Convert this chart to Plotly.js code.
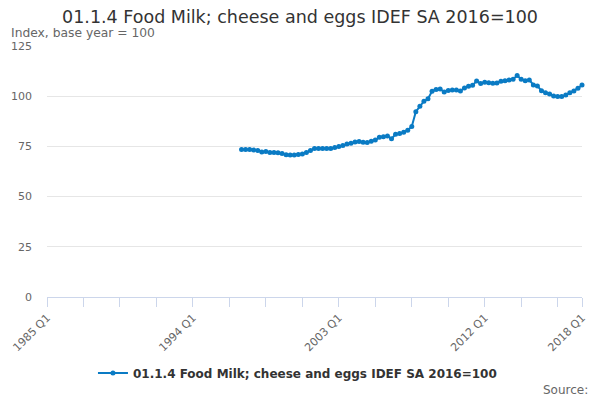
<!DOCTYPE html>
<html>
<head>
<meta charset="utf-8">
<script src="https://cdn.plot.ly/plotly-3.0.1.min.js"></script>
<style>
  html, body { margin: 0; padding: 0; background: #fff; }
  #chart { width: 600px; height: 400px; }
</style>
</head>
<body>
<div id="chart"></div>
<script>
// quarter labels 1985 Q1 .. 2018 Q1
var quarters = [];
for (var y = 1985; y <= 2018; y++) {
  for (var q = 1; q <= 4; q++) {
    if (y === 2018 && q > 1) break;
    quarters.push(y + ' Q' + q);
  }
}

// series starts 1997 Q1
var seriesStart = '1997 Q1';
var seriesName = '01.1.4 Food Milk; cheese and eggs IDEF SA 2016=100';
var values = [
  73.5, 73.5, 73.4, 73.2,   // 1997
  72.9, 72.2, 72.5, 72.0,   // 1998
  71.9, 71.8, 71.5, 70.9,   // 1999
  70.7, 70.7, 71.0, 71.2,   // 2000
  71.9, 72.9, 73.9, 74.0,   // 2001
  73.9, 74.0, 74.0, 74.4,   // 2002
  74.9, 75.5, 76.2, 76.6,   // 2003
  77.2, 77.5, 77.1, 76.9,   // 2004
  77.6, 78.2, 79.5, 79.8,   // 2005
  80.2, 78.8, 81.0, 81.4,   // 2006
  82.0, 83.1, 84.9, 92.3,   // 2007
  95.0, 97.5, 98.7, 102.5,  // 2008
  103.3, 103.6, 102.1, 102.8, // 2009
  103.1, 103.1, 102.6, 104.1, // 2010
  104.9, 105.4, 107.6, 106.3, // 2011
  107.0, 106.7, 106.4, 106.6, // 2012
  107.4, 107.7, 108.1, 108.5, // 2013
  110.3, 108.4, 107.7, 108.1, // 2014
  105.6, 105.1, 102.7, 101.7, // 2015
  101.1, 100.1, 99.8, 99.8,   // 2016
  100.6, 101.7, 102.6, 103.9, // 2017
  105.6                       // 2018
];

var startIdx = quarters.indexOf(seriesStart);
var xs = quarters.slice(startIdx, startIdx + values.length);

// tick marks every 9 quarters, labels every 36 plus the last one
var tickVals = [], tickText = [];
for (var i = 0; i < quarters.length; i += 9) {
  tickVals.push(quarters[i]);
  tickText.push(i % 36 === 0 ? quarters[i] : '');
}
tickVals.push(quarters[quarters.length - 1]);
tickText.push(quarters[quarters.length - 1]);

var blue = '#0a7bc4';

var data = [
  {
    x: xs,
    y: values,
    type: 'scatter',
    mode: 'lines+markers',
    name: seriesName,
    line: { color: blue, width: 2 },
    marker: { color: blue, size: 5 },
    cliponaxis: false
  }
];

var layout = {
  width: 600,
  height: 400,
  font: { family: 'DejaVu Sans, sans-serif', color: '#666', size: 11 },
  paper_bgcolor: '#fff',
  plot_bgcolor: '#fff',
  margin: { l: 47, r: 18, t: 46, b: 103 },
  title: {
    text: '01.1.4 Food Milk; cheese and eggs IDEF SA 2016=100',
    font: { size: 17.5, color: '#333' },
    x: 0.5, xref: 'container', xanchor: 'center',
    y: 1 - 17 / 400, yref: 'container', yanchor: 'middle'
  },
  xaxis: {
    type: 'category',
    categoryorder: 'array',
    categoryarray: quarters,
    range: [0, quarters.length - 1],
    tickmode: 'array',
    tickvals: tickVals,
    ticktext: tickText,
    tickangle: -45,
    ticks: 'outside',
    ticklen: 9,
    tickcolor: '#ccd6eb',
    showline: true,
    linecolor: '#ccd6eb',
    linewidth: 1,
    showgrid: false,
    zeroline: false,
    tickfont: { size: 11, color: '#666' }
  },
  yaxis: {
    range: [0, 125],
    dtick: 25,
    tick0: 0,
    showgrid: true,
    gridcolor: '#e6e6e6',
    zeroline: false,
    showline: false,
    ticks: '',
    ticklabelstandoff: 14,
    tickfont: { size: 11, color: '#666' }
  },
  showlegend: true,
  legend: {
    orientation: 'h',
    x: (297 - 47) / 534, xanchor: 'center',
    y: (297 - 373) / 251, yanchor: 'middle',
    itemwidth: 30,
    font: { size: 12, color: '#333', weight: 'bold' }
  },
  annotations: [
    {
      text: 'Index, base year = 100',
      xref: 'paper', yref: 'paper',
      x: -38 / 534, xanchor: 'left',
      y: (297 - 32.5) / 251, yanchor: 'middle',
      showarrow: false,
      font: { size: 12.3, color: '#666' }
    },
    {
      text: 'Source:',
      xref: 'paper', yref: 'paper',
      x: (589 - 47) / 534, xanchor: 'right',
      y: (297 - 390) / 251, yanchor: 'middle',
      showarrow: false,
      font: { size: 12, color: '#666' }
    }
  ]
};

Plotly.newPlot('chart', data, layout, { displayModeBar: false, staticPlot: true });
</script>
</body>
</html>
